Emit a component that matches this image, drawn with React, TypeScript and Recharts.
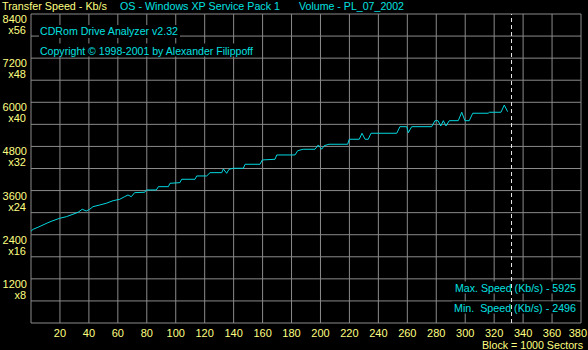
import React from "react";
import { LineChart, Line, XAxis, YAxis, CartesianGrid, ReferenceLine } from "recharts";

// block number (x 1000 sectors) and transfer speed in Kb/s
const blocks = [
  0, 1.5, 4.8, 8.3, 11.7, 15.2, 19.8, 24.4, 29, 32.5, 35.4, 38.2, 40.6, 42.8, 47.5, 52, 56.7,
  61.3, 64.7, 67, 69.3, 71.6, 78.6, 79.7, 86.6, 88, 94.9, 96, 102.9, 104.1, 113.3, 114.5, 121.4,
  123.7, 131.8, 132.9, 135.2, 136.8, 139.8, 146.7, 147.9, 158.2, 159.8, 168.6, 169.8, 182.4,
  184.3, 188.1, 196.2, 198.5, 200.8, 202.6, 205.9, 218.8, 219.9, 226.8, 228.7, 230.8, 233,
  234.9, 252.7, 254.9, 259.6, 260.7, 263, 276.8, 279.1, 281.2, 283.1, 284.9, 286.7, 289, 295.2,
  297.6, 299.8, 302.8, 305.2, 315.9, 316.6, 324.7, 327, 329.3,
];
const speeds = [
  2496, 2548, 2602, 2665, 2727, 2782, 2847, 2890, 2956, 3010, 3092, 3045, 3092, 3162, 3208, 3255, 3325,
  3363, 3434, 3480, 3434, 3543, 3554, 3616, 3616, 3706, 3706, 3798, 3815, 3907, 3907, 3997, 3997,
  4087, 4087, 4187, 4070, 4179, 4206, 4206, 4315, 4315, 4432, 4451, 4568, 4568,
  4685, 4723, 4723, 4840, 4723, 4821, 4859, 4859, 4995, 4995, 5158, 4995, 4995,
  5158, 5158, 5337, 5337, 5174, 5337, 5337, 5500, 5500, 5356, 5500, 5356, 5500, 5500,
  5729, 5500, 5500, 5702, 5702, 5729, 5729, 5925, 5745,
];

const xTicks = [0, 20, 40, 60, 80, 100, 120, 140, 160, 180, 200, 220, 240, 260, 280, 300, 320, 340, 360, 380];
const yTicks = [0, 600, 1200, 1800, 2400, 3000, 3600, 4200, 4800, 5400, 6000, 6600, 7200, 7800, 8400];
const endBlock = 332;
const maxSpeed = 5925;
const minSpeed = 2496;

const data = blocks.map((b, i) => ({ block: b, speed: speeds[i] }));

const FONT = "'Liberation Sans', Arial, sans-serif";
const YELLOW = "#ffff80";
const CYAN = "#00e0e0";
const GRID = "#8a8a8a";

function XTick(props: any) {
  const v = props.payload.value;
  if (v === 0) return null;
  const last = v === xTicks[xTicks.length - 1];
  return (
    <text
      x={last ? 587 : props.x}
      y={337}
      textAnchor={last ? "end" : "middle"}
      fill={YELLOW}
      fontSize={11}
      fontFamily={FONT}
    >
      {v}
    </text>
  );
}

function YTick(props: any) {
  const v = props.payload.value;
  if (v === 0 || v % 1200 !== 0) return null;
  return (
    <g>
      <text x={27} y={props.y + 9} textAnchor="end" fill={YELLOW} fontSize={11} fontFamily={FONT}>
        {v}
      </text>
      <text x={26} y={props.y + 20} textAnchor="end" fill={YELLOW} fontSize={11} fontFamily={FONT}>
        {"x" + v / 150}
      </text>
    </g>
  );
}

export default function App() {
  return (
    <div style={{ position: "absolute", left: 0, top: 0, width: 588, height: 350, background: "#000" }}>
      <LineChart width={588} height={350} data={data} margin={{ top: 14, right: 7, bottom: 0, left: 0 }}>
        <CartesianGrid stroke={GRID} strokeWidth={1} />
        <XAxis
          type="number"
          dataKey="block"
          domain={[0, 380]}
          ticks={xTicks}
          interval={0}
          height={27}
          axisLine={false}
          tickLine={false}
          tick={<XTick />}
        />
        <YAxis
          type="number"
          domain={[0, 8400]}
          ticks={yTicks}
          interval={0}
          width={31}
          axisLine={false}
          tickLine={false}
          tick={<YTick />}
        />
        <g fontFamily={FONT} fontSize={11}>
          <text x={2} y={10} fill={YELLOW} textLength={105} lengthAdjust="spacingAndGlyphs">
            Transfer Speed - Kb/s
          </text>
          <text x={120} y={10} fill={CYAN} textLength={160} lengthAdjust="spacingAndGlyphs">
            OS - Windows XP Service Pack 1
          </text>
          <text x={299} y={10} fill={CYAN} textLength={105} lengthAdjust="spacingAndGlyphs">
            Volume - PL_07_2002
          </text>
          <rect x={39} y={25} width={141} height={13} fill="#000" />
          <rect x={39} y={43.5} width={216} height={13} fill="#000" />
          <text x={40} y={35} fill={CYAN} textLength={138} lengthAdjust="spacingAndGlyphs">
            CDRom Drive Analyzer v2.32
          </text>
          <text x={40} y={55} fill={CYAN} textLength={213} lengthAdjust="spacingAndGlyphs">
            Copyright © 1998-2001 by Alexander Filippoff
          </text>
          <rect x={453} y={281.5} width={124} height={12} fill="#000" />
          <rect x={452} y={301.5} width={125} height={12} fill="#000" />
          <text x={455} y={292} fill={CYAN} textLength={121} lengthAdjust="spacingAndGlyphs">
            {"Max. Speed (Kb/s) - " + maxSpeed}
          </text>
          <text x={454} y={312} fill={CYAN} textLength={122} lengthAdjust="spacingAndGlyphs" style={{ whiteSpace: "pre" }}>
            {"Min.  Speed (Kb/s) - " + minSpeed}
          </text>
          <text x={583} y={349} fill={YELLOW} textAnchor="end" textLength={101} lengthAdjust="spacingAndGlyphs">
            Block = 1000 Sectors
          </text>
        </g>
        <ReferenceLine x={endBlock} stroke="#e8e8e8" strokeDasharray="4 3" />
        <Line
          type="linear"
          dataKey="speed"
          stroke="#00d8e0"
          strokeWidth={1}
          dot={false}
          isAnimationActive={false}
        />
      </LineChart>
    </div>
  );
}
